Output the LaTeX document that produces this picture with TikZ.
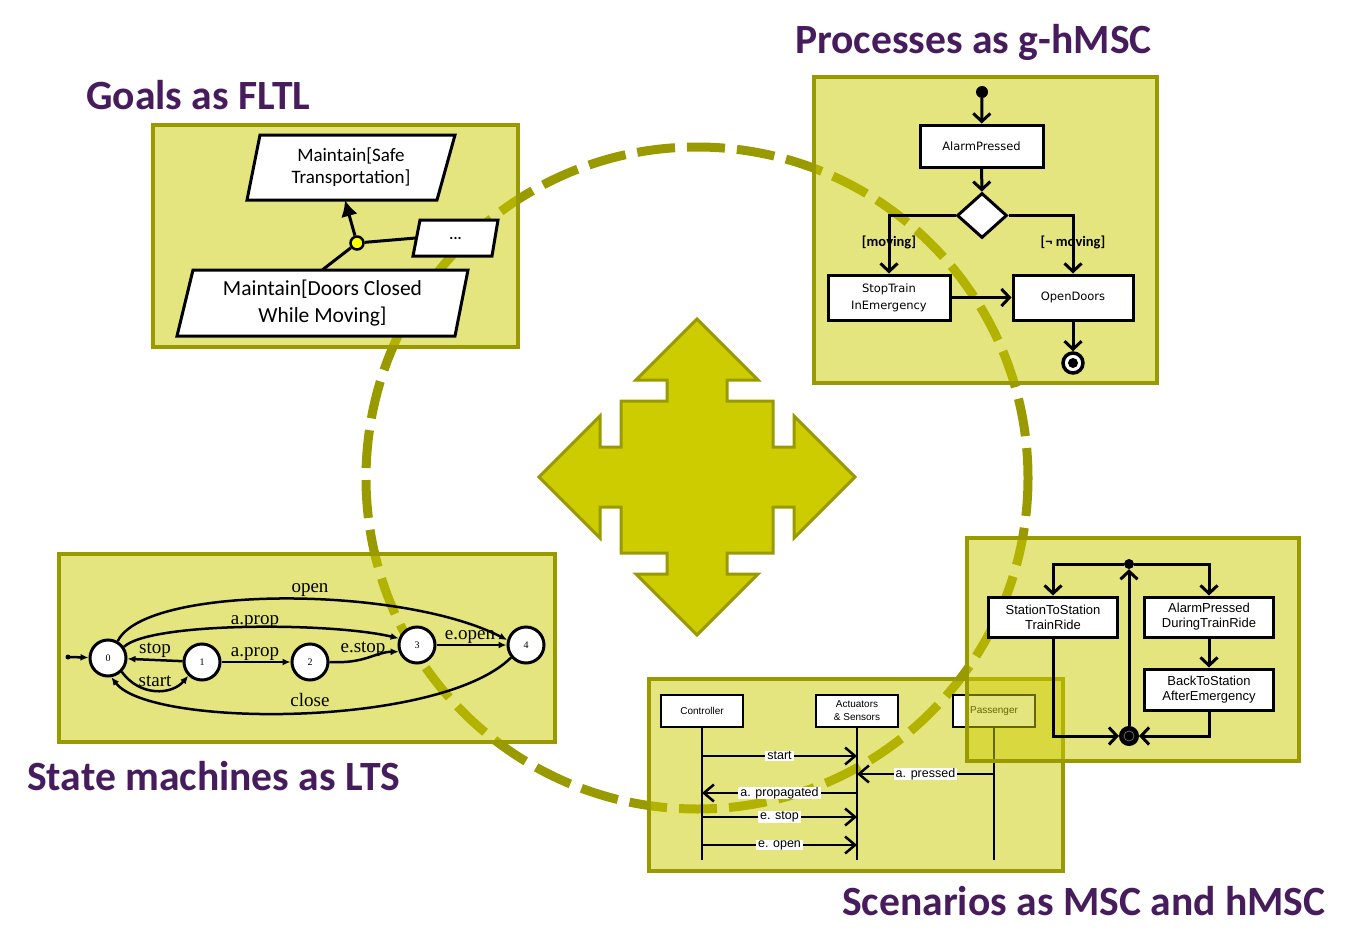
\documentclass[tikz,border=0pt]{standalone}
\usepackage{fontspec}
\usepackage{tikz}
\usetikzlibrary{positioning, shapes.geometric, arrows.meta}

\newfontfamily\calib{Carlito}
\newfontfamily\verd{DejaVu Sans}
\newfontfamily\arialf{Liberation Sans}
\newfontfamily\timesf{Liberation Serif}

\definecolor{panelfill}{HTML}{CCCC00}
\definecolor{paneledge}{HTML}{999900}
\definecolor{titlecol}{RGB}{70,28,92}
\definecolor{andyellow}{HTML}{FFFF00}

\begin{document}
\begin{tikzpicture}[x=1pt, y=-1pt,
    panel/.style={draw=paneledge, line width=3.5pt, fill=panelfill, fill opacity=0.5},
    ring/.style={draw=paneledge, line width=9pt, dash pattern=on 38pt off 12pt},
    cross/.style={draw=paneledge, line width=3pt, fill=panelfill},
    heading/.style={anchor=base west, text=titlecol, inner sep=0pt, font=\calib\bfseries\fontsize{41.6}{46}\selectfont},
    goalline/.style={draw, line width=3pt, fill=white, line join=miter},
    goal/.style={rectangle, align=center, inner sep=0pt, font=\calib\fontsize{19}{22}\selectfont},
    act/.style={rectangle, draw, line width=3pt, fill=white, align=center, inner sep=0pt, font=\verd\fontsize{11.5}{17}\selectfont},
    flow/.style={line width=3pt, -{Straight Barb[length=8pt, width=17pt]}},
    guard/.style={inner sep=0pt, font=\calib\bfseries\fontsize{14.5}{16}\selectfont},
    scene/.style={rectangle, draw, line width=3pt, fill=white, align=center, inner sep=0pt, minimum width=129pt, minimum height=40pt, font=\arialf\fontsize{13}{15}\selectfont},
    life/.style={rectangle, draw, line width=2.5pt, fill=white, align=center, inner sep=0pt, minimum width=82pt, minimum height=32pt, font=\arialf\fontsize{10}{13}\selectfont},
    msg/.style={line width=2.5pt, -{Straight Barb[length=10pt, width=17pt]}},
    msgtext/.style={fill=white, inner xsep=2pt, inner ysep=0.5pt, font=\arialf\fontsize{12.5}{13}\selectfont},
    state/.style={circle, draw, line width=3pt, fill=white, minimum size=36pt, inner sep=0pt, font=\timesf\fontsize{10}{10}\selectfont},
    trans/.style={line width=2.5pt, -{Latex[length=8pt, width=7pt]}},
    translabel/.style={anchor=base, inner sep=0pt, font=\timesf\fontsize{19}{19}\selectfont},
    blob/.style={circle, fill, inner sep=0pt, minimum size=#1}]

    \useasboundingbox (0,0) rectangle (1352,934);

    % dashed cycle and the central cross
    \draw[ring] (697,478) circle (331);
    \draw[cross, shift={(697,477)}] (0,-158) -- (61,-97) -- (30,-97) -- (30,-76) -- (76,-76) -- (76,-30)
        -- (97,-30) -- (97,-61) -- (158,0) -- (97,61) -- (97,30) -- (76,30) -- (76,76) -- (30,76)
        -- (30,97) -- (61,97) -- (0,158) -- (-61,97) -- (-30,97) -- (-30,76) -- (-76,76) -- (-76,30)
        -- (-97,30) -- (-97,61) -- (-158,0) -- (-97,-61) -- (-97,-30) -- (-76,-30) -- (-76,-76)
        -- (-30,-76) -- (-30,-97) -- (-61,-97) -- cycle;

    % goals
    \draw[panel] (153,125) rectangle (518,347);
    \draw[goalline] (260,135) -- (455,135) -- (437,200) -- (247,200) -- cycle;
    \draw[goalline] (420,220) -- (498,220) -- (492,256) -- (413,256) -- cycle;
    \draw[goalline] (193,270) -- (468,270) -- (455,336) -- (177,336) -- cycle;
    \node[goal, minimum width=190pt, minimum height=65pt] (safe) at (351,167.5) {Maintain[Safe\\Transportation]};
    \node[goal, minimum width=79pt, minimum height=36pt, font=\calib\bfseries\fontsize{15}{15}\selectfont] (more) at (455.5,238) {...};
    \node[goal, minimum width=275pt, minimum height=66pt, font=\calib\fontsize{21.5}{27}\selectfont] (doors) at (322.5,303) {Maintain[Doors Closed\\While Moving]};
    \node[circle, draw, line width=2.5pt, fill=andyellow, minimum size=13pt, inner sep=0pt] (and) at (357,243) {};
    \draw[line width=3pt] (doors.north) -- (and);
    \draw[line width=3pt] (and) -- (more.west);
    \draw[line width=3pt, -{Latex[length=16pt, width=17pt]}] (and) -- ([xshift=-6pt]safe.south);

    % processes
    \draw[panel] (814,77) rectangle (1157,383);
    \node[blob=12pt] (init) at (982,92) {};
    \node[act, minimum width=123pt, minimum height=42pt] (alarm) at (981.5,146) {AlarmPressed};
    \node[diamond, draw, line width=3pt, fill=white, minimum width=50pt, minimum height=45pt, inner sep=0pt] (choice) at (982,215.5) {};
    \node[act, minimum width=122pt, minimum height=45pt] (stoptrain) at (889,297.5) {StopTrain\\InEmergency};
    \node[act, minimum width=120pt, minimum height=45pt] (opendoors) at (1073,297.5) {OpenDoors};
    \node[circle, draw, line width=3.5pt, fill=white, minimum size=20pt, inner sep=0pt] (final) at (1073,363) {};
    \fill (final) circle (5);
    \node[guard] (moving) at (889,242) {[moving]};
    \node[guard] (notmoving) at (1073,242) {[¬ moving]};
    \draw[flow] (init) -- (alarm);
    \draw[flow] (alarm) -- (choice);
    \draw[flow] (choice.west) -| (stoptrain);
    \draw[flow] (choice.east) -| (opendoors);
    \draw[flow] (stoptrain) -- (opendoors);
    \draw[flow] (opendoors) -- (final);

    % state machine
    \draw[panel] (59,554) rectangle (555,742);
    \node[state] (s0) at (108,658) {0};
    \node[state] (s1) at (202,662) {1};
    \node[state] (s2) at (310,662) {2};
    \node[state] (s3) at (417,645) {3};
    \node[state] (s4) at (526,645) {4};
    \coordinate (entry) at (68,657);
    \fill (entry) circle (2.5);
    \draw[trans] (entry) -- (s0);
    \draw[trans] (s1) -- (s0);
    \draw[trans] (s0.-45) .. controls (140,697) and (172,695) .. (s1.-135);
    \draw[trans] (s1) -- (s2);
    \draw[trans] (s2.east) .. controls (365,664) and (375,652) .. (s3.-160);
    \draw[trans] (s0.35) .. controls (150,622) and (330,622) .. (s3.160);
    \draw[trans] (s0.60) .. controls (145,585) and (400,585) .. (s4.165);
    \draw[trans] (s4.-140) .. controls (440,728) and (150,728) .. (s0.-80);
    \draw[trans] (s3) -- (s4);
    \node[translabel] (lopen) at (310,592) {open};
    \node[translabel] (lprop) at (255,624) {a.prop};
    \node[translabel] (lstop) at (155,653) {stop};
    \node[translabel] (lstart) at (155,686) {start};
    \node[translabel] (lprop2) at (255,656) {a.prop};
    \node[translabel] (lestop) at (363,652) {e.stop};
    \node[translabel] (leopen) at (470,639) {e.open};
    \node[translabel] (lclose) at (310,706.5) {close};

    % scenario
    \draw[panel] (649,679) rectangle (1063,871);
    \node[life] (ctrl) at (702,711) {Controller};
    \node[life] (acts) at (857,711) {Actuators\\\&~Sensors};
    \node[life] (pass) at (994,711) {Passenger};
    \coordinate (ctrlend) at (702,860);
    \coordinate (actsend) at (857,860);
    \coordinate (passend) at (994,860);
    \draw[line width=2.5pt] (ctrl) -- (ctrlend);
    \draw[line width=2.5pt] (acts) -- (actsend);
    \draw[line width=2.5pt] (pass) -- (passend);
    \draw[msg] (ctrl |- 0,756) -- node[msgtext] (mstart) {start} (acts |- 0,756);
    \draw[msg] (pass |- 0,774) -- node[msgtext] (mpressed) {a. pressed} (acts |- 0,774);
    \draw[msg] (acts |- 0,793) -- node[msgtext] (mprop) {a. propagated} (ctrl |- 0,793);
    \draw[msg] (ctrl |- 0,817) -- node[msgtext] (mstop) {e. stop} (acts |- 0,817);
    \draw[msg] (ctrl |- 0,845) -- node[msgtext] (mopen) {e. open} (acts |- 0,845);

    % high-level scenario
    \draw[panel] (967,538) rectangle (1299,761);
    \node[blob=10pt] (fork) at (1129,564) {};
    \node[scene] (ride) at (1053,617) {StationToStation\\TrainRide};
    \node[scene] (alarmride) at (1209,617) {AlarmPressed\\DuringTrainRide};
    \node[scene, minimum height=41pt] (back) at (1209,689.5) {BackToStation\\AfterEmergency};
    \node[circle, draw, line width=3pt, fill=black, minimum size=17pt, inner sep=0pt] (join) at (1129,736) {};
    \draw[black!60, line width=0.8pt] (join) circle (5);
    \draw[flow] (fork) -| (ride);
    \draw[flow] (fork) -| (alarmride);
    \draw[flow] (alarmride) -- (back);
    \draw[flow] (ride) |- (join);
    \draw[flow] (back) |- (join);
    \draw[flow] (join) -- (fork);

    % titles
    \node[heading] (goalstitle) at (86,110) {Goals as FLTL};
    \node[heading] (proctitle) at (795,54) {Processes as g-hMSC};
    \node[heading] (ltstitle) at (27,790) {State machines as LTS};
    \node[heading] (msctitle) at (842,915) {Scenarios as MSC and hMSC};
\end{tikzpicture}
\end{document}
